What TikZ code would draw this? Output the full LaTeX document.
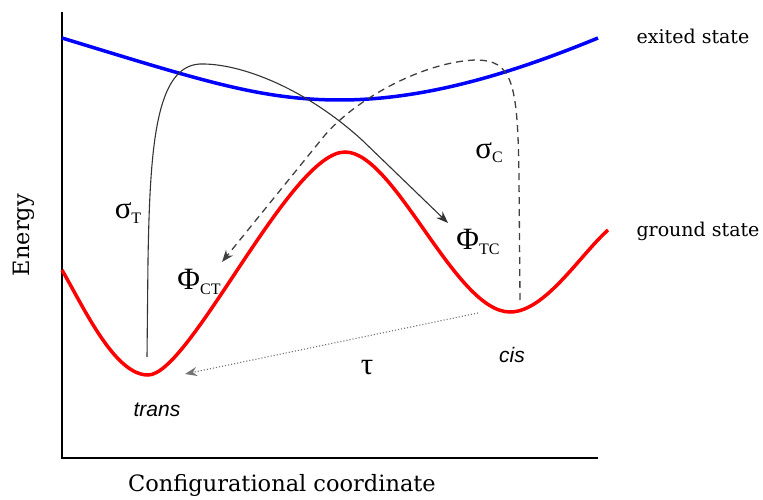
\documentclass[tikz,border=0pt]{standalone}
\usepackage{fontspec}
\setmainfont{DejaVu Serif}
\newfontfamily\greekfont{Liberation Serif}
\newfontfamily\sansfontx{Liberation Sans}
\usetikzlibrary{arrows.meta}
\newcommand{\subx}[1]{\raisebox{-0.3ex}{\fontsize{16}{18}\selectfont #1}}
\begin{document}
\begin{tikzpicture}[x=1pt,y=-1pt,
  axis/.style={line width=1.4pt,black},
  exc/.style={line width=3.5pt,blue},
  gnd/.style={line width=3.5pt,red},
  transpath/.style={line width=1.1pt,black!80,-{Stealth[length=12pt,width=9pt]}},
  cispath/.style={line width=1.3pt,black!75,dash pattern=on 7pt off 5pt,-{Stealth[length=12pt,width=9pt]}},
  relax/.style={line width=1.1pt,black!55,dotted,-{Stealth[length=12pt,width=9pt]}},
  lbl/.style={inner sep=0pt,font=\fontsize{19}{22}\selectfont},
  axlbl/.style={inner sep=0pt,font=\fontsize{22.5}{26}\selectfont},
  gr/.style={inner sep=0pt,font=\greekfont\fontsize{31}{34}\selectfont},
  iso/.style={inner sep=0pt,font=\sansfontx\itshape\fontsize{21}{24}\selectfont}]
\useasboundingbox[fill=white] (0,0) rectangle (763,500);
% axes
\coordinate (ytop) at (62,12);
\coordinate (orig) at (62,458);
\coordinate (xend) at (598,458);
\draw[axis] (ytop) -- (orig) -- (xend);
% excited state
\draw[exc] (62,38) .. controls (200,80) and (260,100) .. (340,100)
  .. controls (430,100) and (520,70) .. (598,38);
% ground state
\draw[gnd] (62,270) .. controls (85,310) and (115,375) .. (148,375)
  .. controls (190,375) and (290,152) .. (345,152)
  .. controls (395,152) and (455,312) .. (510,312)
  .. controls (545,312) and (580,255) .. (608,230);
% endpoints
\coordinate (tstart) at (147,357);
\coordinate (ttip) at (448,223);
\coordinate (cstart) at (520,300);
\coordinate (ctip) at (222,262);
\coordinate (cisb) at (478,313);
\coordinate (transb) at (185,374);
% trans -> cis photo path
\draw[transpath] (tstart) -- (148,260) .. controls (150,150) and (155,66) .. (200,64)
  .. controls (240,63) and (305,88) .. (362,140) -- (ttip);
% cis -> trans photo path
\draw[cispath] (cstart) -- (519,180) .. controls (518,80) and (512,60) .. (475,60)
  .. controls (425,62) and (358,97) .. (325,135) -- (ctip);
% thermal relaxation
\draw[relax] (cisb) -- (transb);
% labels
\node[gr] (sT) at (128,213) {σ\subx{T}};
\node[gr] (pCT) at (199,282) {Φ\subx{CT}};
\node[gr] (sC) at (489,153) {σ\subx{C}};
\node[gr] (pTC) at (478,242) {Φ\subx{TC}};
\node[gr] (tau) at (367,368) {τ};
\node[iso] (trans) at (157,410) {trans};
\node[iso] (cis) at (512,355) {cis};
\node[lbl] (exlab) at (693,36) {exited state};
\node[lbl] (gslab) at (698,231) {ground state};
\node[axlbl,rotate=90] (elab) at (24,235) {Energy};
\node[axlbl] (xlab) at (282,485) {Configurational coordinate};
\end{tikzpicture}
\end{document}
